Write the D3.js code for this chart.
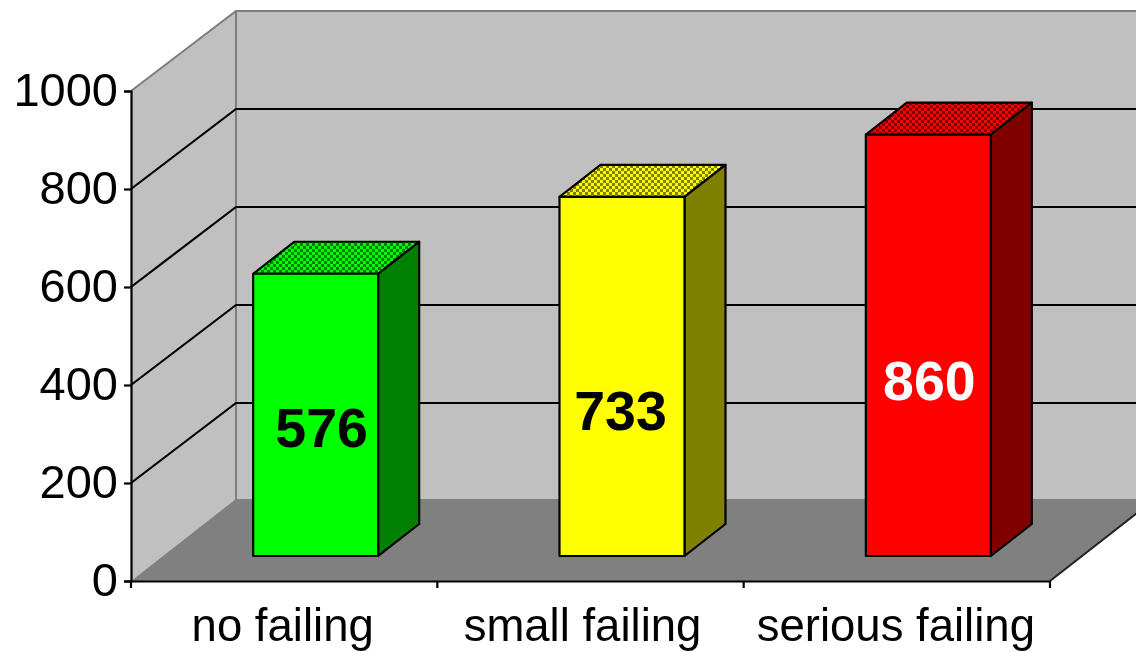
<!DOCTYPE html>
<html>
<head>
<meta charset="utf-8">
<script src="https://cdn.jsdelivr.net/npm/d3@7"></script>
<style>
  html, body { margin: 0; padding: 0; background: #fff; overflow: hidden; }
  text { font-family: "Liberation Sans", Arial, sans-serif; }
</style>
</head>
<body>
<div id="chart"></div>
<script>
const categories = ["no failing", "small failing", "serious failing"];
const values = [576, 733, 860];
const tickValues = [0, 200, 400, 600, 800, 1000];
const faceColors = ["#00ff00", "#ffff00", "#ff0000"];
const sideColors = ["#008000", "#808000", "#800000"];
const labelColors = ["#000", "#000", "#fff"];

const WIDTH = 1136;
const HEIGHT = 652;
const LEFT = 131;
const RIGHT = 1050;
const BOTTOM = 581;
const TOP = 91;
// how far the back wall sits from the front of the box
const DEPTH = { x: 105, y: 80 };
// back edge of the floor sits slightly above the wall's zero line
const FLOOR_LIFT = 2;
// bars stand on the floor, part way in
const BAR_OFFSET = { x: 31.5, y: 25 };
const BAR_DEPTH = { x: 41, y: 32 };
const BAR_WIDTH = 125;
// the labels are not centred on the bars in the original
const LABEL_NUDGE = [
  { x: 6, y: 13 },
  { x: -1.5, y: 34 },
  { x: 1, y: 35 },
];
const CATEGORY_NUDGE = [-1.5, -8, -1];

const svg = d3
  .select("#chart")
  .append("svg")
  .attr("width", WIDTH)
  .attr("height", HEIGHT)
  .style("display", "block");

const defs = svg.append("defs");

// the source is an enlarged bitmap, so everything is a little soft
defs
  .append("filter")
  .attr("id", "soft")
  .attr("x", "-5%")
  .attr("y", "-5%")
  .attr("width", "110%")
  .attr("height", "110%")
  .append("feGaussianBlur")
  .attr("stdDeviation", 0.75);

// dithered top faces
categories.forEach((c, i) => {
  const p = defs
    .append("pattern")
    .attr("id", `top-${i}`)
    .attr("patternUnits", "userSpaceOnUse")
    .attr("width", 6)
    .attr("height", 6);
  p.append("rect")
    .attr("width", 6)
    .attr("height", 6)
    .attr("fill", sideColors[i]);
  p.append("rect")
    .attr("width", 3)
    .attr("height", 3)
    .attr("fill", faceColors[i]);
  p.append("rect")
    .attr("x", 3)
    .attr("y", 3)
    .attr("width", 3)
    .attr("height", 3)
    .attr("fill", faceColors[i]);
});

const y = d3.scaleLinear().domain([0, 1000]).range([BOTTOM, TOP]);
const x = d3.scaleBand().domain(categories).range([LEFT, RIGHT]);

const g = svg.append("g").attr("filter", "url(#soft)");

const poly = d3.line();
const INK = "#000";

// back wall
g.append("path")
  .attr(
    "d",
    poly([
      [LEFT + DEPTH.x, y(1000) - DEPTH.y],
      [RIGHT + DEPTH.x, y(1000) - DEPTH.y],
      [RIGHT + DEPTH.x, y(0) - DEPTH.y],
      [LEFT + DEPTH.x, y(0) - DEPTH.y],
    ]) + "Z"
  )
  .attr("fill", "#c0c0c0");

// side wall
g.append("path")
  .attr(
    "d",
    poly([
      [LEFT, y(1000)],
      [LEFT + DEPTH.x, y(1000) - DEPTH.y],
      [LEFT + DEPTH.x, y(0) - DEPTH.y],
      [LEFT, y(0)],
    ]) + "Z"
  )
  .attr("fill", "#c0c0c0");

// wall outlines
g.append("path")
  .attr(
    "d",
    poly([
      [LEFT, y(1000)],
      [LEFT + DEPTH.x, y(1000) - DEPTH.y],
      [RIGHT + DEPTH.x, y(1000) - DEPTH.y],
    ])
  )
  .attr("fill", "none")
  .attr("stroke", "#7c7c84")
  .attr("stroke-width", 2);

g.append("line")
  .attr("x1", LEFT + DEPTH.x)
  .attr("x2", LEFT + DEPTH.x)
  .attr("y1", y(1000) - DEPTH.y)
  .attr("y2", y(0) - DEPTH.y)
  .attr("stroke", "#7c7c88")
  .attr("stroke-width", 2);

// floor
g.append("path")
  .attr(
    "d",
    poly([
      [LEFT, y(0)],
      [LEFT + DEPTH.x, y(0) - DEPTH.y - FLOOR_LIFT],
      [RIGHT + DEPTH.x, y(0) - DEPTH.y - FLOOR_LIFT],
      [RIGHT, y(0)],
    ]) + "Z"
  )
  .attr("fill", "#808080");

g.append("path")
  .attr(
    "d",
    poly([
      [RIGHT, y(0)],
      [RIGHT + DEPTH.x, y(0) - DEPTH.y - FLOOR_LIFT],
    ])
  )
  .attr("stroke", "#222")
  .attr("stroke-width", 2);

// gridlines
g.selectAll(".grid")
  .data(tickValues.filter((d) => d > 0 && d < 1000))
  .enter()
  .append("path")
  .attr("class", "grid")
  .attr("d", (d) =>
    poly([
      [LEFT, y(d)],
      [LEFT + DEPTH.x, y(d) - DEPTH.y],
      [RIGHT + DEPTH.x, y(d) - DEPTH.y],
    ])
  )
  .attr("fill", "none")
  .attr("stroke", INK)
  .attr("stroke-width", 2.2);

// axes
const yAxis = g
  .append("g")
  .attr("transform", `translate(${LEFT},0)`)
  .call(
    d3
      .axisLeft(y)
      .tickValues(tickValues)
      .tickFormat(d3.format("d"))
      .tickSize(7)
      .tickPadding(6)
  );

const xAxis = g
  .append("g")
  .attr("transform", `translate(0,${BOTTOM})`)
  .call(d3.axisBottom(x).tickSize(0).tickPadding(28));

yAxis.selectAll("path, line").attr("stroke", INK).attr("stroke-width", 2.2);
xAxis.selectAll("path").attr("stroke", INK).attr("stroke-width", 2.2);
[yAxis, xAxis].forEach((a) =>
  a
    .selectAll("text")
    .attr("fill", "#000")
    .style("font-family", '"Liberation Sans", Arial, sans-serif')
);
yAxis.selectAll("text").attr("dy", "0.3em").style("font-size", "47px");
xAxis
  .selectAll("text")
  .attr("dy", "0.71em")
  .attr("dx", (d, i) => CATEGORY_NUDGE[i])
  .style("font-size", "45.5px");

// x ticks sit between the categories
g.selectAll(".x-tick")
  .data(d3.range(categories.length + 1))
  .enter()
  .append("line")
  .attr("class", "x-tick")
  .attr("x1", (d) => LEFT + d * x.step())
  .attr("x2", (d) => LEFT + d * x.step())
  .attr("y1", BOTTOM)
  .attr("y2", BOTTOM + 7)
  .attr("stroke", INK)
  .attr("stroke-width", 2.2);

// bars
const barLeft = (i) =>
  x(categories[i]) + (x.step() - BAR_WIDTH) / 2 + BAR_OFFSET.x;
const barY = (v) => y(v) - BAR_OFFSET.y;

const bar = g
  .selectAll(".bar")
  .data(values)
  .enter()
  .append("g")
  .attr("class", "bar")
  .attr("stroke", "#000")
  .attr("stroke-width", 2.2)
  .attr("stroke-linejoin", "round");

bar
  .append("path")
  .attr(
    "d",
    (d, i) =>
      poly([
        [barLeft(i), barY(d)],
        [barLeft(i) + BAR_DEPTH.x, barY(d) - BAR_DEPTH.y],
        [barLeft(i) + BAR_WIDTH + BAR_DEPTH.x, barY(d) - BAR_DEPTH.y],
        [barLeft(i) + BAR_WIDTH, barY(d)],
      ]) + "Z"
  )
  .attr("fill", (d, i) => `url(#top-${i})`);

bar
  .append("path")
  .attr(
    "d",
    (d, i) =>
      poly([
        [barLeft(i) + BAR_WIDTH, barY(d)],
        [barLeft(i) + BAR_WIDTH + BAR_DEPTH.x, barY(d) - BAR_DEPTH.y],
        [barLeft(i) + BAR_WIDTH + BAR_DEPTH.x, barY(0) - BAR_DEPTH.y],
        [barLeft(i) + BAR_WIDTH, barY(0)],
      ]) + "Z"
  )
  .attr("fill", (d, i) => sideColors[i]);

bar
  .append("rect")
  .attr("x", (d, i) => barLeft(i))
  .attr("y", (d) => barY(d))
  .attr("width", BAR_WIDTH)
  .attr("height", (d) => barY(0) - barY(d))
  .attr("fill", (d, i) => faceColors[i]);

// value labels
g.selectAll(".value")
  .data(values)
  .enter()
  .append("text")
  .attr("class", "value")
  .attr("x", (d, i) => barLeft(i) + BAR_WIDTH / 2 + LABEL_NUDGE[i].x)
  .attr("y", (d, i) => (barY(d) + barY(0)) / 2 + LABEL_NUDGE[i].y)
  .attr("dy", "0.35em")
  .attr("text-anchor", "middle")
  .attr("fill", (d, i) => labelColors[i])
  .style("font-size", "55.5px")
  .style("font-weight", "bold")
  .text((d) => d);
</script>
</body>
</html>
